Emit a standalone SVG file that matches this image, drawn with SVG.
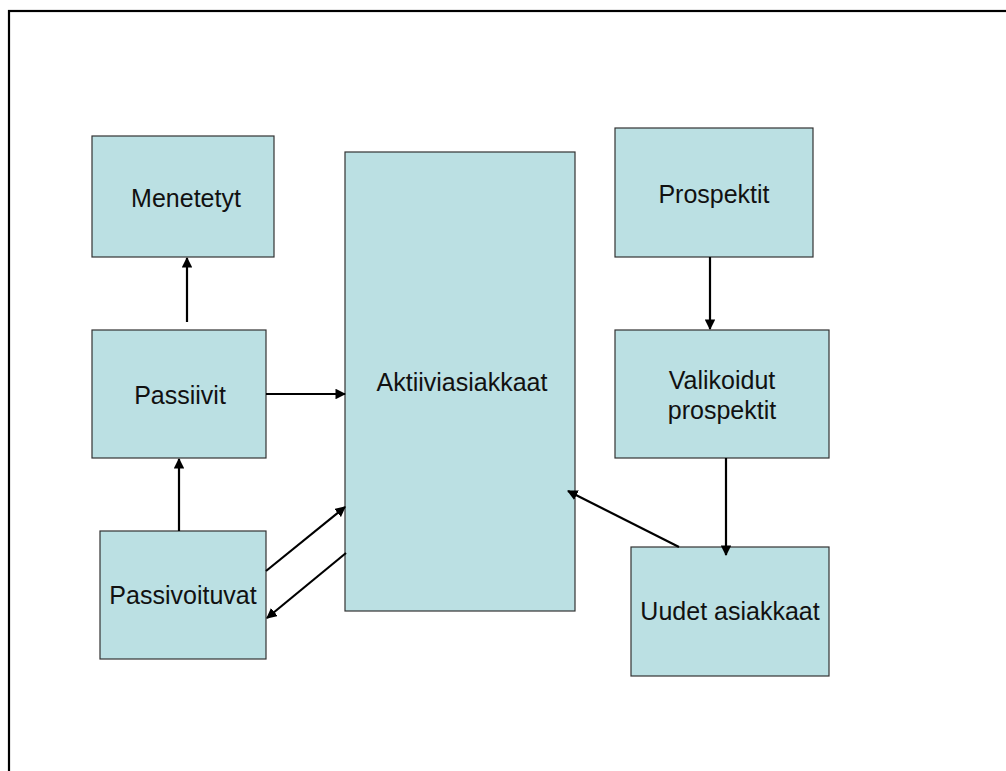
<svg xmlns="http://www.w3.org/2000/svg" width="1006" height="771" viewBox="0 0 1006 771">
  <style>
    .box { fill: #bbe0e3; stroke: #333333; stroke-width: 1.2; }
    .label { font-family: "Liberation Sans", Arial, sans-serif; font-size: 25px; fill: #111111; text-anchor: middle; }
    .link { stroke: #000000; stroke-width: 2.2; fill: none; marker-end: url(#head); }
  </style>
  <defs>
    <marker id="head" viewBox="0 0 10 10" refX="9" refY="5" markerWidth="4.8" markerHeight="4.8" orient="auto" markerUnits="strokeWidth">
      <path d="M0,0 L10,5 L0,10 Z" fill="#000000"/>
    </marker>
  </defs>

  <rect width="1006" height="771" fill="#ffffff"/>
  <!-- page frame, open on the right and bottom -->
  <rect x="9" y="11" width="1100" height="900" fill="none" stroke="#000000" stroke-width="2.2"/>

  <g id="menetetyt">
    <rect class="box" x="92" y="136" width="182" height="121"/>
    <text class="label" x="186" y="207">Menetetyt</text>
  </g>
  <g id="passiivit">
    <rect class="box" x="92" y="330" width="174" height="128"/>
    <text class="label" x="180" y="404">Passiivit</text>
  </g>
  <g id="passivoituvat">
    <rect class="box" x="100" y="531" width="166" height="128"/>
    <text class="label" x="183" y="604">Passivoituvat</text>
  </g>
  <g id="aktiiviasiakkaat">
    <rect class="box" x="345" y="152" width="230" height="459"/>
    <text class="label" x="462" y="391">Aktiiviasiakkaat</text>
  </g>
  <g id="prospektit">
    <rect class="box" x="615" y="128" width="198" height="129"/>
    <text class="label" x="714" y="203">Prospektit</text>
  </g>
  <g id="valikoidut">
    <rect class="box" x="615" y="330" width="214" height="128"/>
    <text class="label" x="722" y="389">Valikoidut</text>
    <text class="label" x="722" y="419">prospektit</text>
  </g>
  <g id="uudet">
    <rect class="box" x="631" y="547" width="198" height="129"/>
    <text class="label" x="730" y="620">Uudet asiakkaat</text>
  </g>

  <g id="connectors">
    <line class="link" x1="187" y1="322" x2="187" y2="258"/>
    <line class="link" x1="179" y1="531" x2="179" y2="459"/>
    <line class="link" x1="266" y1="394" x2="345" y2="394"/>
    <line class="link" x1="266" y1="571" x2="345" y2="507"/>
    <line class="link" x1="346" y1="553" x2="267" y2="618"/>
    <line class="link" x1="710" y1="257" x2="710" y2="329"/>
    <line class="link" x1="726" y1="458" x2="726" y2="555"/>
    <line class="link" x1="679" y1="547" x2="568" y2="491"/>
  </g>
</svg>
